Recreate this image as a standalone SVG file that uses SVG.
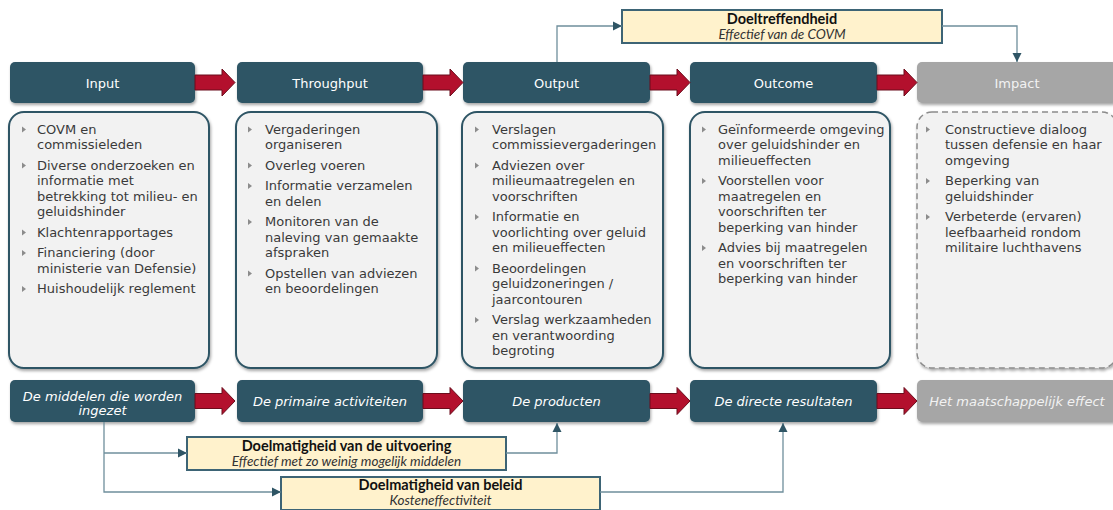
<svg xmlns="http://www.w3.org/2000/svg" width="1113" height="510" viewBox="0 0 1113 510">
<defs>
<filter id="sh" x="-5%" y="-5%" width="115%" height="115%">
<feDropShadow dx="1" dy="2" stdDeviation="1.5" flood-color="#000" flood-opacity="0.35"/>
</filter>
<marker id="ah" viewBox="0 0 10 10" refX="10" refY="5" markerUnits="userSpaceOnUse" markerWidth="9" markerHeight="10" orient="auto">
<path d="M0,0 L10,5 L0,10 Z" fill="#2f5565"/>
</marker>
<style>
.hdr{fill:#2f5565;filter:url(#sh)}
.hdrg{fill:#a6a6a6;filter:url(#sh)}
.ht{font-family:"DejaVu Sans",Verdana,sans-serif;font-size:13px;fill:#ffffff;text-anchor:middle}
.it{font-style:italic}
.htg{fill:#f2f2f2}
.box{fill:#f2f2f2;stroke:#2f5565;stroke-width:2;filter:url(#sh)}
.boxd{fill:#f2f2f2;stroke:#8c8c8c;stroke-width:1.5;stroke-dasharray:6 4;filter:url(#sh)}
.bt{font-family:"DejaVu Sans",Verdana,sans-serif;font-size:13px;fill:#3a3a3a}
.bul{fill:#8c8c8c}
.ybox{fill:#fff2cc;stroke:#3d6475;stroke-width:2}
.yb{font-family:Lato,"Open Sans",sans-serif;font-weight:bold;font-size:14.5px;fill:#111;text-anchor:middle}
.yi{font-family:Lato,"Open Sans",sans-serif;font-style:italic;font-size:13.5px;fill:#333;text-anchor:middle}
.con{fill:none;stroke:#6f8f9c;stroke-width:1.3}
.red{fill:#b3102d;stroke:#6b0d1c;stroke-width:1}
</style>
</defs>

<!-- Header row -->
<g id="input">
<rect class="hdr" x="10" y="62" width="185" height="41" rx="5"/>
<text class="ht" x="102.5" y="87.5">Input</text>
</g>
<g id="throughput">
<rect class="hdr" x="237" y="62" width="186" height="41" rx="5"/>
<text class="ht" x="330" y="87.5">Throughput</text>
</g>
<g id="output">
<rect class="hdr" x="463" y="62" width="187" height="41" rx="5"/>
<text class="ht" x="556.5" y="87.5">Output</text>
</g>
<g id="outcome">
<rect class="hdr" x="690" y="62" width="187" height="41" rx="5"/>
<text class="ht" x="783.5" y="87.5">Outcome</text>
</g>
<g id="impact">
<rect class="hdrg" x="917" y="62" width="200" height="41" rx="5"/>
<text class="ht htg" x="1017" y="87.5">Impact</text>
</g>

<!-- Content boxes -->
<g id="input-items">
<rect class="box" x="9" y="112" width="200" height="256" rx="15"/>
<path class="bul" d="M22,126.5 L26,129.5 L22,132.5 Z"/>
<path class="bul" d="M22,162.5 L26,165.5 L22,168.5 Z"/>
<path class="bul" d="M22,229.5 L26,232.5 L22,235.5 Z"/>
<path class="bul" d="M22,250 L26,253 L22,256 Z"/>
<path class="bul" d="M22,286 L26,289 L22,292 Z"/>
<text class="bt" x="37" y="133.5">COVM en</text>
<text class="bt" x="37" y="149">commissieleden</text>
<text class="bt" x="37" y="169.5">Diverse onderzoeken en</text>
<text class="bt" x="37" y="185">informatie met</text>
<text class="bt" x="37" y="200.5">betrekking tot milieu- en</text>
<text class="bt" x="37" y="216">geluidshinder</text>
<text class="bt" x="37" y="236.5">Klachtenrapportages</text>
<text class="bt" x="37" y="257">Financiering (door</text>
<text class="bt" x="37" y="272.5">ministerie van Defensie)</text>
<text class="bt" x="37" y="293">Huishoudelijk reglement</text>
</g>

<g id="throughput-items">
<rect class="box" x="236" y="112" width="201" height="256" rx="15"/>
<path class="bul" d="M248,126.5 L252,129.5 L248,132.5 Z"/>
<path class="bul" d="M248,162.5 L252,165.5 L248,168.5 Z"/>
<path class="bul" d="M248,183 L252,186 L248,189 Z"/>
<path class="bul" d="M248,219 L252,222 L248,225 Z"/>
<path class="bul" d="M248,270.5 L252,273.5 L248,276.5 Z"/>
<text class="bt" x="265" y="133.5">Vergaderingen</text>
<text class="bt" x="265" y="149">organiseren</text>
<text class="bt" x="265" y="169.5">Overleg voeren</text>
<text class="bt" x="265" y="190">Informatie verzamelen</text>
<text class="bt" x="265" y="205.5">en delen</text>
<text class="bt" x="265" y="226">Monitoren van de</text>
<text class="bt" x="265" y="241.5">naleving van gemaakte</text>
<text class="bt" x="265" y="257">afspraken</text>
<text class="bt" x="265" y="277.5">Opstellen van adviezen</text>
<text class="bt" x="265" y="293">en beoordelingen</text>
</g>

<g id="output-items">
<rect class="box" x="462" y="112" width="201" height="256" rx="15"/>
<path class="bul" d="M475,126.5 L479,129.5 L475,132.5 Z"/>
<path class="bul" d="M475,162.5 L479,165.5 L475,168.5 Z"/>
<path class="bul" d="M475,214 L479,217 L475,220 Z"/>
<path class="bul" d="M475,265.5 L479,268.5 L475,271.5 Z"/>
<path class="bul" d="M475,317 L479,320 L475,323 Z"/>
<text class="bt" x="492" y="133.5">Verslagen</text>
<text class="bt" x="492" y="149">commissievergaderingen</text>
<text class="bt" x="492" y="169.5">Adviezen over</text>
<text class="bt" x="492" y="185">milieumaatregelen en</text>
<text class="bt" x="492" y="200.5">voorschriften</text>
<text class="bt" x="492" y="221">Informatie en</text>
<text class="bt" x="492" y="236.5">voorlichting over geluid</text>
<text class="bt" x="492" y="252">en milieueffecten</text>
<text class="bt" x="492" y="272.5">Beoordelingen</text>
<text class="bt" x="492" y="288">geluidzoneringen /</text>
<text class="bt" x="492" y="303.5">jaarcontouren</text>
<text class="bt" x="492" y="324">Verslag werkzaamheden</text>
<text class="bt" x="492" y="339.5">en verantwoording</text>
<text class="bt" x="492" y="355">begroting</text>
</g>

<g id="outcome-items">
<rect class="box" x="690" y="112" width="200" height="256" rx="15"/>
<path class="bul" d="M702,126.5 L706,129.5 L702,132.5 Z"/>
<path class="bul" d="M702,178 L706,181 L702,184 Z"/>
<path class="bul" d="M702,245 L706,248 L702,251 Z"/>
<text class="bt" x="718" y="133.5">Geïnformeerde omgeving</text>
<text class="bt" x="718" y="149">over geluidshinder en</text>
<text class="bt" x="718" y="164.5">milieueffecten</text>
<text class="bt" x="718" y="185">Voorstellen voor</text>
<text class="bt" x="718" y="200.5">maatregelen en</text>
<text class="bt" x="718" y="216">voorschriften ter</text>
<text class="bt" x="718" y="231.5">beperking van hinder</text>
<text class="bt" x="718" y="252">Advies bij maatregelen</text>
<text class="bt" x="718" y="267.5">en voorschriften ter</text>
<text class="bt" x="718" y="283">beperking van hinder</text>
</g>

<g id="impact-items">
<rect class="boxd" x="917" y="112" width="200" height="256" rx="15"/>
<path class="bul" d="M926,126.5 L930,129.5 L926,132.5 Z"/>
<path class="bul" d="M926,178 L930,181 L926,184 Z"/>
<path class="bul" d="M926,214 L930,217 L926,220 Z"/>
<text class="bt" x="945" y="133.5">Constructieve dialoog</text>
<text class="bt" x="945" y="149">tussen defensie en haar</text>
<text class="bt" x="945" y="164.5">omgeving</text>
<text class="bt" x="945" y="185">Beperking van</text>
<text class="bt" x="945" y="200.5">geluidshinder</text>
<text class="bt" x="945" y="221">Verbeterde (ervaren)</text>
<text class="bt" x="945" y="236.5">leefbaarheid rondom</text>
<text class="bt" x="945" y="252">militaire luchthavens</text>
</g>

<!-- Bottom row -->
<g id="middelen">
<rect class="hdr" x="10" y="380" width="185" height="42" rx="5"/>
<text class="ht it" x="102.5" y="400.5">De middelen die worden</text>
<text class="ht it" x="102.5" y="415">ingezet</text>
</g>
<g id="activiteiten">
<rect class="hdr" x="237" y="380" width="186" height="42" rx="5"/>
<text class="ht it" x="330" y="405.5">De primaire activiteiten</text>
</g>
<g id="producten">
<rect class="hdr" x="463" y="380" width="187" height="42" rx="5"/>
<text class="ht it" x="556.5" y="405.5">De producten</text>
</g>
<g id="resultaten">
<rect class="hdr" x="690" y="380" width="187" height="42" rx="5"/>
<text class="ht it" x="783.5" y="405.5">De directe resultaten</text>
</g>
<g id="effect">
<rect class="hdrg" x="917" y="380" width="200" height="42" rx="5"/>
<text class="ht it htg" x="1017" y="405.5">Het maatschappelijk effect</text>
</g>

<!-- Yellow boxes -->
<g id="doeltreffendheid">
<rect class="ybox" x="622" y="10" width="320" height="33"/>
<text class="yb" x="782" y="23.5">Doeltreffendheid</text>
<text class="yi" x="782" y="38.5">Effectief van de COVM</text>
</g>
<g id="doelmatigheid-uitvoering">
<rect class="ybox" x="187" y="437" width="319" height="33"/>
<text class="yb" x="346.5" y="451">Doelmatigheid van de uitvoering</text>
<text class="yi" x="346.5" y="466">Effectief met zo weinig mogelijk middelen</text>
</g>
<g id="doelmatigheid-beleid">
<rect class="ybox" x="281" y="477" width="319" height="33"/>
<text class="yb" x="440.5" y="490">Doelmatigheid van beleid</text>
<text class="yi" x="440.5" y="504.5">Kosteneffectiviteit</text>
</g>

<!-- Connectors -->
<g id="connectors">
<path class="red" d="M195,75 H222 V69 L235,82.5 L222,96 V90 H195 Z"/>
<path class="red" d="M423,75 H450 V69 L463,82.5 L450,96 V90 H423 Z"/>
<path class="red" d="M650,75 H677 V69 L690,82.5 L677,96 V90 H650 Z"/>
<path class="red" d="M877,75 H904 V69 L917,82.5 L904,96 V90 H877 Z"/>
<path class="red" d="M195,393.5 H222 V387.5 L235,401 L222,414.5 V408.5 H195 Z"/>
<path class="red" d="M423,393.5 H450 V387.5 L463,401 L450,414.5 V408.5 H423 Z"/>
<path class="red" d="M650,393.5 H677 V387.5 L690,401 L677,414.5 V408.5 H650 Z"/>
<path class="red" d="M877,393.5 H904 V387.5 L917,401 L904,414.5 V408.5 H877 Z"/>
<path class="con" d="M557,62 V26 H622" marker-end="url(#ah)"/>
<path class="con" d="M942,26 H1017 V62" marker-end="url(#ah)"/>
<path class="con" d="M104,422 V492 H281" marker-end="url(#ah)"/>
<path class="con" d="M104,453 H187" marker-end="url(#ah)"/>
<path class="con" d="M506,453 H557 V423" marker-end="url(#ah)"/>
<path class="con" d="M600,492 H783 V423" marker-end="url(#ah)"/>
</g>
</svg>
